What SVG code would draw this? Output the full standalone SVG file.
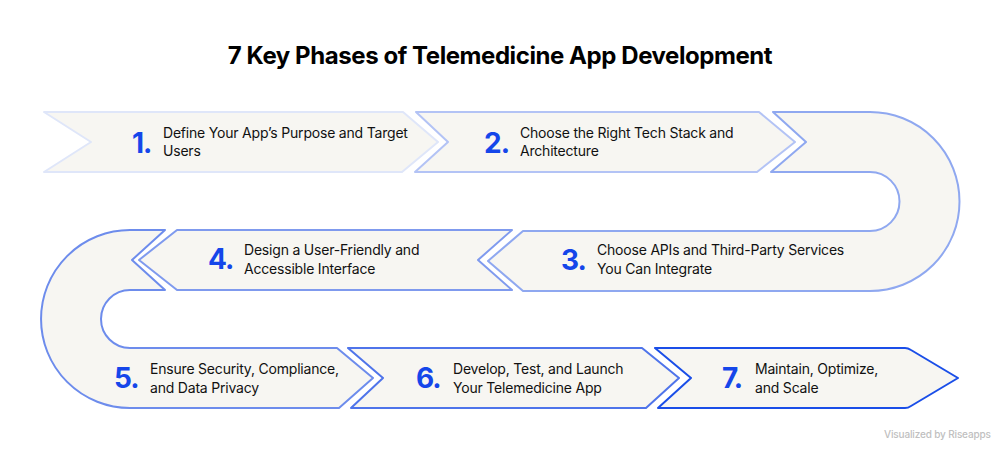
<svg xmlns="http://www.w3.org/2000/svg" width="1000" height="450" viewBox="0 0 1000 450">
<style>
text{font-family:Inter,"Liberation Sans",sans-serif}
.t{font-size:14px;font-weight:400;fill:#111111;letter-spacing:-0.2px}
.n{font-size:28px;font-weight:700;fill:#1546ea;letter-spacing:-1px}
.s{fill:#f7f6f2;stroke-width:2;stroke-linejoin:round}
</style>
<rect width="1000" height="450" fill="#ffffff"/>
<text x="500" y="64" text-anchor="middle" font-size="24" font-weight="700" fill="#000000" letter-spacing="-0.43">7 Key Phases of Telemedicine App Development</text>
<g id="node1"><path class="s" stroke="#dfe6f9" d="M44 112H403L438 142L402 172H44L91 142Z"/><text class="n" x="132" y="153">1.</text><text class="t" x="163" y="138">Define Your App’s Purpose and Target</text><text class="t" x="163" y="156">Users</text></g>
<g id="node2"><path class="s" stroke="#b3c3f5" d="M416 112H759L795 142L757 172H415L448 142Z"/><text class="n" x="484" y="153">2.</text><text class="t" x="520" y="138">Choose the Right Tech Stack and</text><text class="t" x="520" y="156">Architecture</text></g>
<g id="node3"><path class="s" stroke="#8fa8f0" d="M773 112H870A89.5 89.5 0 0 1 870 291H523L488 261L523 231H870A29.5 29.5 0 0 0 870 172H771L806 142Z"/><text class="n" x="561" y="270">3.</text><text class="t" x="597" y="255">Choose APIs and Third-Party Services</text><text class="t" x="597" y="274">You Can Integrate</text></g>
<g id="node4"><path class="s" stroke="#7f9aee" d="M177 230H512L478 260L512 290H177L139 260Z"/><text class="n" x="208" y="269">4.</text><text class="t" x="244" y="255">Design a User-Friendly and</text><text class="t" x="244" y="274">Accessible Interface</text></g>
<g id="node5"><path class="s" stroke="#6d8cec" d="M165 230H130A89 89 0 0 0 130 408H339L373 378L337 348H130A29 29 0 0 1 130 290H165L132 260Z"/><text class="n" x="114" y="388">5.</text><text class="t" x="150" y="374">Ensure Security, Compliance,</text><text class="t" x="150" y="393">and Data Privacy</text></g>
<g id="node6"><path class="s" stroke="#4f74ea" d="M348 348H642L679 378L646 408H351L383 378Z"/><text class="n" x="416" y="388">6.</text><text class="t" x="453" y="374">Develop, Test, and Launch</text><text class="t" x="453" y="393">Your Telemedicine App</text></g>
<g id="node7"><path class="s" stroke="#1a4ee8" d="M655 348H905Q908 348 911 350L958 378L911 406Q908 408 905 408H658L691 378Z"/><text class="n" x="722" y="388">7.</text><text class="t" x="755" y="374">Maintain, Optimize,</text><text class="t" x="755" y="393">and Scale</text></g>
<text x="884" y="438" font-size="10" font-weight="500" fill="#c0c0c0" letter-spacing="-0.15">Visualized by Riseapps</text>
</svg>
